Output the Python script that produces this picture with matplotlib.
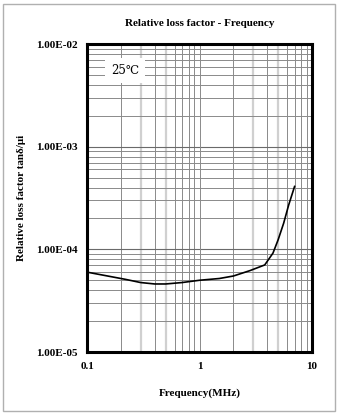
import matplotlib
matplotlib.use("Agg")
import matplotlib.pyplot as plt
from matplotlib.patches import Rectangle
from matplotlib.ticker import FixedLocator, NullFormatter

# Relative loss factor vs frequency at 25 °C
freq_mhz = [0.1, 0.22, 0.3, 0.4, 0.5, 0.7, 1.0, 1.5, 2.0, 2.8, 3.8, 4.5, 5.0, 5.6, 6.2, 7.0]
loss_factor = [6.0e-5, 5.1e-5, 4.75e-5, 4.6e-5, 4.6e-5, 4.75e-5, 5.0e-5, 5.2e-5,
               5.5e-5, 6.2e-5, 7.05e-5, 9.2e-5, 1.24e-4, 1.8e-4, 2.7e-4, 4.1e-4]

x_ticks = [0.1, 1, 10]
x_tick_labels = ["0.1", "1", "10"]
y_ticks = [1e-5, 1e-4, 1e-3, 1e-2]
y_tick_labels = ["1.00E-05", "1.00E-04", "1.00E-03", "1.00E-02"]

serif = ["Liberation Serif", "DejaVu Serif"]

fig = plt.figure(figsize=(3.38, 4.16), dpi=100)
fig.patch.set_facecolor("white")
fig.add_artist(Rectangle((0.009, 0.012), 0.982, 0.978, transform=fig.transFigure,
                         fill=False, edgecolor="#b0b0b0", linewidth=1.0))

ax = fig.add_axes([0.2574, 0.1538, 0.6657, 0.7404])
ax.set_xscale("log")
ax.set_yscale("log")
ax.set_xlim(0.1, 10)
ax.set_ylim(1e-5, 1e-2)

# grid: minor decades, with 3 and 5 drawn in a lighter, wider stroke
for dec in [0.1, 1]:
    for m in range(2, 10):
        v = dec * m
        if m in (3, 5):
            ax.axvline(v, color="#d0d0d0", lw=1.6, zorder=1)
        else:
            ax.axvline(v, color="#8a8a8a", lw=0.7, zorder=1)
for dec in [1e-5, 1e-4, 1e-3]:
    for m in range(2, 10):
        ax.axhline(dec * m, color="#8a8a8a", lw=0.7, zorder=1)
for v in [1e-4, 1e-3]:
    ax.axhline(v, color="#6a6a6a", lw=0.8, zorder=1)
ax.axvline(1, color="#8a8a8a", lw=0.7, zorder=1)

ax.plot(freq_mhz, loss_factor, color="black", lw=1.2, zorder=3)

ax.xaxis.set_major_locator(FixedLocator(x_ticks))
ax.yaxis.set_major_locator(FixedLocator(y_ticks))
ax.xaxis.set_minor_formatter(NullFormatter())
ax.yaxis.set_minor_formatter(NullFormatter())
ax.set_xticklabels(x_tick_labels, fontfamily=serif, fontweight="bold", fontsize=8)
ax.set_yticklabels(y_tick_labels, fontfamily=serif, fontweight="bold", fontsize=8)
ax.tick_params(which="both", length=0)
ax.tick_params(axis="x", pad=7)
ax.tick_params(axis="y", pad=7)

for s in ax.spines.values():
    s.set_linewidth(2.2)
    s.set_color("black")
    s.set_zorder(4)

ax.set_xlabel("Frequency(MHz)", fontfamily=serif, fontweight="bold", fontsize=8)
ax.xaxis.set_label_coords(0.5, -0.118)
ax.set_ylabel("Relative loss factor tanδ/μi", fontfamily=serif, fontweight="bold",
              fontsize=8)
ax.yaxis.set_label_coords(-0.271, 0.5)
ax.set_title("Relative loss factor - Frequency", fontfamily=serif, fontweight="bold",
             fontsize=8, pad=13)

# temperature tag in a white box
ax.text(0.168, 0.913, "25℃", transform=ax.transAxes, ha="center", va="center",
        fontsize=8.5, fontfamily=["DejaVu Serif"], zorder=5,
        bbox=dict(boxstyle="square,pad=0.5", facecolor="white", edgecolor="none"))

fig.savefig("out.png", dpi=100)
